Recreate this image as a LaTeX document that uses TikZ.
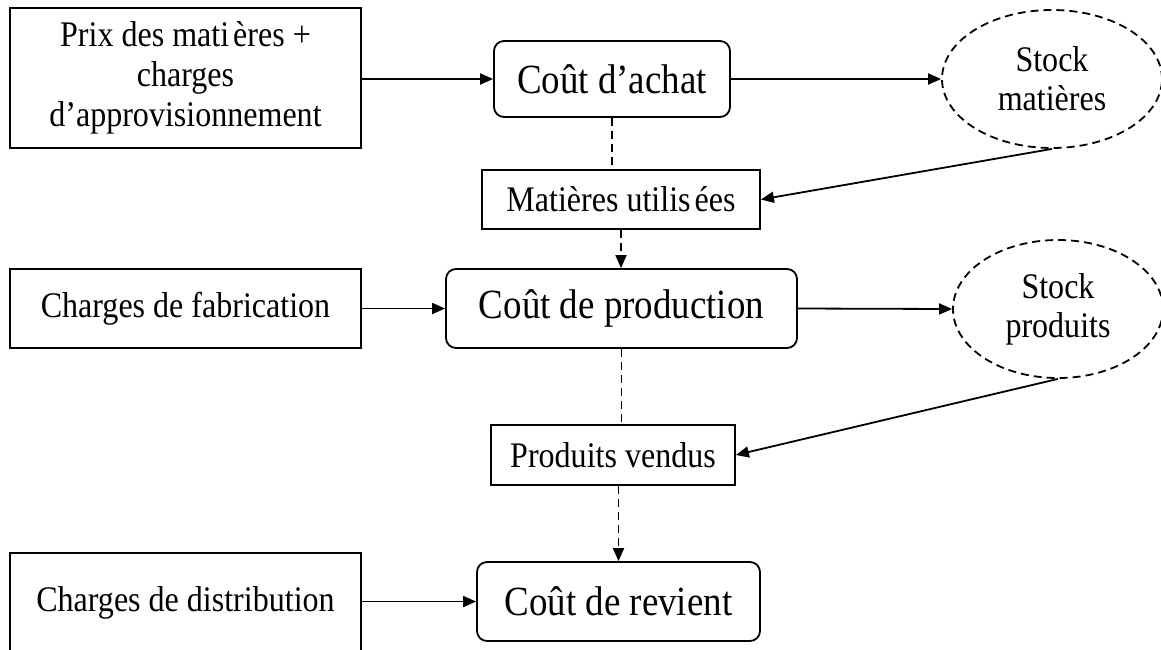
\documentclass[tikz,border=0pt]{standalone}
\usepackage{fontspec}
\setmainfont{Liberation Serif}[FakeStretch=0.89]
\usetikzlibrary{arrows.meta,shapes.geometric}

\begin{document}
\begin{tikzpicture}[x=1pt,y=-1pt,
  every node/.style={align=center, inner sep=0pt, line width=1.8pt},
  plainbox/.style={draw, rectangle, font=\fontsize{36}{37}\selectfont},
  costbox/.style={draw, rectangle, rounded corners=10pt, font=\fontsize{41.5}{40}\selectfont},
  stockbox/.style={draw, ellipse, dash pattern=on 8pt off 5pt, font=\fontsize{36}{36}\selectfont},
  flow/.style={line width=1.8pt, -{Triangle[length=13pt,width=11pt]}},
  link/.style={line width=1.8pt, dash pattern=on 8pt off 5pt},
  dflow/.style={link, -{Triangle[length=13pt,width=11pt]}}
]
\useasboundingbox (0,0) rectangle (1161,649);

% left column: cost components
\node[plainbox, minimum width=351pt, minimum height=140pt] (prix) at (185.5,78)
  {Prix des mati\kern4pt ères +\\[3pt]charges\\[3pt]d’approvisionnement};
\node[plainbox, minimum width=351pt, minimum height=79pt] (fab) at (185.5,308.5)
  {Charges de fabrication};
\node[plainbox, minimum width=351pt, minimum height=100pt] (dist) at (185.5,603)
  {Charges de distribution};

% centre column: successive costs
\node[costbox, minimum width=236pt, minimum height=76pt] (achat) at (612,79) {Coût d’achat};
\node[plainbox, minimum width=278pt, minimum height=59pt] (mu) at (621,199.5)
  {Matières utilis\kern4pt ées};
\node[costbox, minimum width=351pt, minimum height=79pt] (prod) at (621.5,308.5) {Coût de production};
\node[plainbox, minimum width=244pt, minimum height=60pt] (pv) at (613,455) {Produits vendus};
\node[costbox, minimum width=283pt, minimum height=79pt] (rev) at (618.5,601.5) {Coût de revient};

% right column: stocks
\node[stockbox, minimum width=220pt, minimum height=138pt] (stockm) at (1052,79) {Stock\\[3pt]matières};
\node[stockbox, minimum width=210pt, minimum height=138pt] (stockp) at (1058,309) {Stock\\[3pt]produits};

% connectors
\draw[flow] (prix.east |- achat.west) -- (achat.west);
\draw[flow] (achat.east) -- (stockm.west);
\draw[link] (achat.south) -- (achat.south |- mu.north);
\draw[flow] (stockm.south) -- (mu.east);
\draw[dflow] (mu.south) -- (mu.south |- prod.north);
\draw[flow] (fab.east) -- (prod.west);
\draw[flow] (prod.east) -- (stockp.west);
\draw[link] (prod.south) -- (prod.south |- pv.north);
\draw[flow] (stockp.south) -- (pv.east);
\draw[dflow] (rev.north |- pv.south) -- (rev.north);
\draw[flow] (dist.east |- rev.west) -- (rev.west);
\end{tikzpicture}
\end{document}
